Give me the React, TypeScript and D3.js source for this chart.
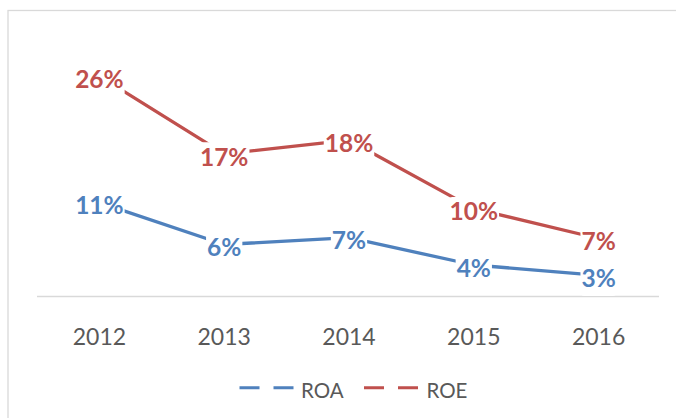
import React, { useEffect, useRef } from "react";
import * as d3 from "d3";

const years = ["2012", "2013", "2014", "2015", "2016"];
const roa = [0.111, 0.062, 0.07, 0.038, 0.026];
const roe = [0.259, 0.168, 0.184, 0.104, 0.069];
const seriesNames = ["ROA", "ROE"];
const seriesColors = ["#4F81BD", "#C0504D"];

const W = 676;
const H = 418;
const FONT = "Lato, 'Open Sans', sans-serif";

export default function App() {
  const ref = useRef<SVGSVGElement | null>(null);

  useEffect(() => {
    const svg = d3.select(ref.current);
    svg.selectAll("*").remove();

    // chart area border
    svg
      .append("rect")
      .attr("x", 8)
      .attr("y", 10.5)
      .attr("width", 720)
      .attr("height", 440)
      .attr("fill", "#fff")
      .attr("stroke", "#d9d9d9")
      .attr("stroke-width", 1.3);

    const x = d3.scaleBand<string>().domain(years).range([37, 661]);
    const y = d3.scaleLinear().domain([0, 0.3]).range([297.5, 297.5 - 256.5]);
    const cx = (d: string) => (x(d) as number) + x.bandwidth() / 2;

    // category axis line
    svg
      .append("line")
      .attr("x1", 37)
      .attr("x2", 659)
      .attr("y1", 296.5)
      .attr("y2", 296.5)
      .attr("stroke", "#d9d9d9")
      .attr("stroke-width", 1.5);

    // axis labels
    svg
      .append("g")
      .selectAll("text")
      .data(years)
      .enter()
      .append("text")
      .attr("x", (d) => cx(d))
      .attr("y", 345)
      .attr("text-anchor", "middle")
      .attr("font-family", FONT)
      .attr("font-size", 23)
      .attr("fill", "#595959")
      .text((d) => d);

    const data = [roa, roe];
    const line = d3
      .line<number>()
      .x((_, i) => cx(years[i]))
      .y((v) => y(v));

    data.forEach((vals, si) => {
      svg
        .append("path")
        .attr("d", line(vals) as string)
        .attr("fill", "none")
        .attr("stroke", seriesColors[si])
        .attr("stroke-width", 3.3)
        .attr("stroke-linejoin", "round");
    });

    // data labels with white boxes
    data.forEach((vals, si) => {
      const g = svg.append("g");
      vals.forEach((v, i) => {
        const px = cx(years[i]);
        const baseline = y(v) + 11.8;
        const rect = g.append("rect").attr("fill", "#fff");
        const t = g
          .append("text")
          .attr("x", px)
          .attr("y", baseline)
          .attr("text-anchor", "middle")
          .attr("font-family", FONT)
          .attr("font-weight", "bold")
          .attr("font-size", 24.5)
          .attr("fill", seriesColors[si])
          .text(d3.format(".0%")(v));
        const bb = (t.node() as SVGTextElement).getBBox();
        rect
          .attr("x", bb.x - 1)
          .attr("width", bb.width + 2)
          .attr("y", baseline - 23.5)
          .attr("height", 32.5)
          .attr("rx", 4);
      });
    });

    // legend
    const legendItems = [
      { x1: 239.5, x2: 293.5, tx: 301 },
      { x1: 364, x2: 418, tx: 426.5 },
    ];
    legendItems.forEach((it, si) => {
      svg
        .append("line")
        .attr("x1", it.x1)
        .attr("x2", it.x2)
        .attr("y1", 387.7)
        .attr("y2", 387.7)
        .attr("stroke", seriesColors[si])
        .attr("stroke-width", 3)
        .attr("stroke-dasharray", "20 14");
      svg
        .append("text")
        .attr("x", it.tx)
        .attr("y", 398.3)
        .attr("font-family", FONT)
        .attr("font-size", 20.5)
        .attr("fill", "#595959")
        .text(seriesNames[si]);
    });
  }, []);

  return (
    <svg
      ref={ref}
      width={W}
      height={H}
      style={{ position: "absolute", left: 0, top: 0, display: "block" }}
    />
  );
}
